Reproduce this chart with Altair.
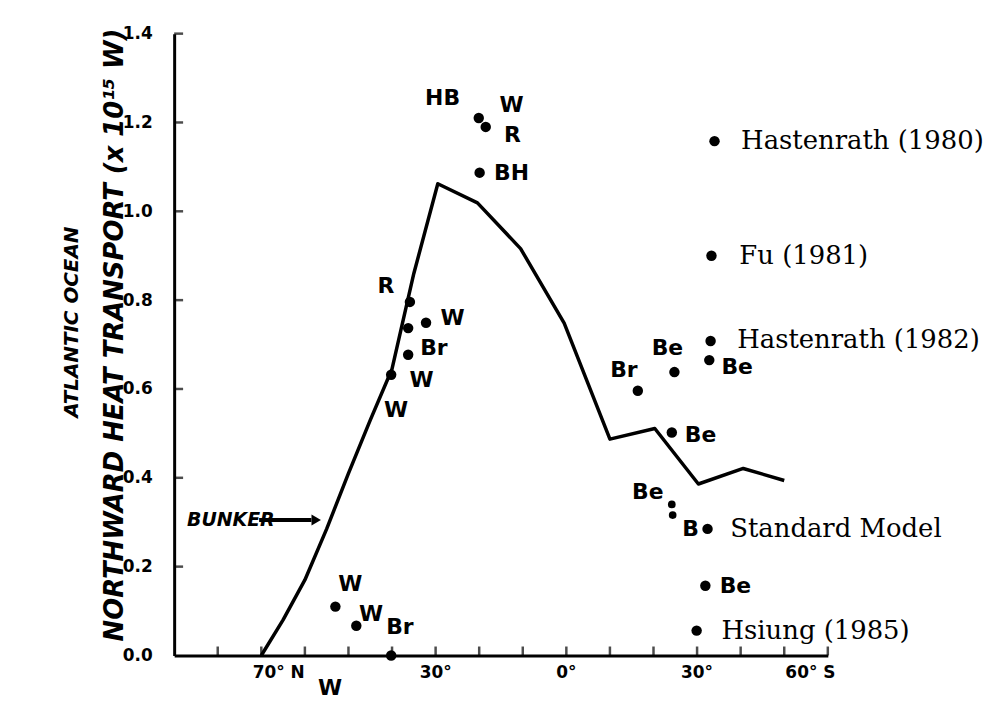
import altair as alt
import pandas as pd

# Bunker curve (latitude, +N / -S ; transport 10^15 W)
line_lat = [70, 65, 60, 55, 50, 45, 40, 35, 29.5, 20.4, 10.5, 0.5, -10, -20.3, -30.3, -40.6, -50]
line_val = [0.0, 0.08, 0.17, 0.285, 0.41, 0.53, 0.645, 0.86, 1.062, 1.019, 0.916, 0.748, 0.487, 0.511, 0.386, 0.421, 0.394]

# Individual estimates (dots)
dot_lat = [20.1, 18.5, 19.9, 35.9, 36.3, 32.2, 36.3, 40.2, 53.0, 48.2, 40.2,
           -16.4, -24.8, -33.1, -32.8, -24.2, -24.2, -24.4, -32.4, -31.9, -34.0, -33.3, -29.9]
dot_val = [1.21, 1.19, 1.087, 0.796, 0.737, 0.749, 0.677, 0.632, 0.11, 0.067, 0.0,
           0.596, 0.638, 0.708, 0.665, 0.502, 0.34, 0.316, 0.285, 0.157, 1.158, 0.90, 0.056]
dot_size = [110, 110, 110, 110, 110, 110, 110, 110, 110, 110, 110,
            110, 110, 110, 110, 110, 60, 60, 110, 110, 110, 110, 110]

# Source letter labels
lab_text = ["HB", "W", "R", "BH", "R", "W", "Br", "W", "W", "W", "W", "Br", "W",
            "Br", "Be", "Be", "Be", "Be", "B", "Be"]
lab_lat = [28.4, 12.6, 12.4, 12.6, 41.4, 26.1, 30.4, 33.2, 39.1, 49.6, 44.8, 38.2, 54.2,
           -13.2, -23.2, -39.2, -30.8, -18.7, -28.5, -38.8]
lab_val = [1.254, 1.239, 1.172, 1.086, 0.831, 0.759, 0.692, 0.62, 0.553, 0.161, 0.094, 0.063, -0.074,
           0.643, 0.692, 0.65, 0.497, 0.367, 0.285, 0.157]

# Study names
src_text = ["Hastenrath (1980)", "Fu (1981)", "Hastenrath (1982)", "Standard Model", "Hsiung (1985)"]
src_lat = [-40.1, -39.7, -39.2, -37.6, -35.6]
src_val = [1.158, 0.90, 0.71, 0.285, 0.056]

# Axis ticks / labels
xtick_lat = [80, 70, 60, 50, 40, 30, 20, 10, 0, -10, -20, -30, -40, -50, -60]
ytick_val = [0.2, 0.4, 0.6, 0.8, 1.0, 1.2, 1.4]
yaxis_vals = [0.0, 0.2, 0.4, 0.6, 0.8, 1.0, 1.2, 1.4]
xlab_text = ["70° N", "30°", "0°", "30°", "60° S"]
xlab_lat = [66, 30, 0, -30, -56]

# Bunker annotation
bunker_text = ["BUNKER"]
bunker_lat = [77.0]
bunker_val = [0.305]
arrow_lat = [70.5]
arrow_lat2 = [58.5]
arrow_head_lat = [57.4]

W, H = 657, 625
xs = alt.Scale(domain=[-60, 90], reverse=True, nice=False, zero=False)
ys = alt.Scale(domain=[0, 1.4], nice=False, zero=False)
xax = alt.Axis(labels=False, ticks=False, grid=False, title=None,
               domainColor="black", domainWidth=3)
yax = alt.Axis(values=yaxis_vals, format=".1f", ticks=False, grid=False, title=None,
               domainColor="black", domainWidth=3,
               labelFont="DejaVu Sans", labelFontWeight="bold", labelFontSize=17,
               labelColor="black", labelPadding=22)


def X(field):
    return alt.X(field, scale=xs, axis=xax)


def Y(field):
    return alt.Y(field, scale=ys, axis=yax)


line_df = pd.DataFrame({"lat": line_lat, "val": line_val})
dot_df = pd.DataFrame({"lat": dot_lat, "val": dot_val, "size": dot_size})
lab_df = pd.DataFrame({"lat": lab_lat, "val": lab_val, "text": lab_text})
src_df = pd.DataFrame({"lat": src_lat, "val": src_val, "text": src_text})
xt_df = pd.DataFrame({"lat": xtick_lat, "val": [0.0] * len(xtick_lat)})
yt_df = pd.DataFrame({"lat": [90.0] * len(ytick_val), "val": ytick_val})
xl_df = pd.DataFrame({"lat": xlab_lat, "val": [0.0] * len(xlab_lat), "text": xlab_text})
bk_df = pd.DataFrame({"lat": bunker_lat, "val": bunker_val, "text": bunker_text,
                      "a1": arrow_lat, "a2": arrow_lat2, "ah": arrow_head_lat})

line = alt.Chart(line_df).mark_line(color="black", strokeWidth=3.5, strokeJoin="round").encode(
    x=X("lat:Q"), y=Y("val:Q"))

xticks = alt.Chart(xt_df).mark_tick(color="black", orient="vertical", size=9, thickness=2.5, yOffset=-4.5).encode(
    x=X("lat:Q"), y=Y("val:Q"))
yticks = alt.Chart(yt_df).mark_tick(color="black", orient="horizontal", size=9, thickness=2.5, xOffset=4.5).encode(
    x=X("lat:Q"), y=Y("val:Q"))

xlabels = alt.Chart(xl_df).mark_text(font="DejaVu Sans", fontWeight="bold", fontSize=17,
                                     color="black", baseline="top", dy=10).encode(
    x=X("lat:Q"), y=Y("val:Q"), text="text:N")

dots = alt.Chart(dot_df).mark_point(filled=True, color="black", opacity=1, shape="circle").encode(
    x=X("lat:Q"), y=Y("val:Q"), size=alt.Size("size:Q", scale=None, legend=None))

labels = alt.Chart(lab_df).mark_text(font="DejaVu Sans", fontWeight="bold", fontSize=22,
                                     color="black", baseline="middle").encode(
    x=X("lat:Q"), y=Y("val:Q"), text="text:N")

sources = alt.Chart(src_df).mark_text(font="DejaVu Serif", fontSize=26, color="black",
                                      align="left", baseline="middle").encode(
    x=X("lat:Q"), y=Y("val:Q"), text="text:N")

bk_text = alt.Chart(bk_df).mark_text(font="DejaVu Sans", fontWeight="bold", fontStyle="italic",
                                     fontSize=19, color="black", baseline="middle").encode(
    x=X("lat:Q"), y=Y("val:Q"), text="text:N")
bk_rule = alt.Chart(bk_df).mark_rule(color="black", strokeWidth=4).encode(
    x=X("a1:Q"), x2="a2:Q", y=Y("val:Q"))
bk_head = alt.Chart(bk_df).mark_point(shape="triangle-right", filled=True, color="black",
                                      opacity=1, size=120).encode(
    x=X("ah:Q"), y=Y("val:Q"))

ytitle1 = alt.Chart(pd.DataFrame({"t": ["ATLANTIC OCEAN"]})).mark_text(
    font="DejaVu Sans", fontWeight="bold", fontStyle="italic", fontSize=20, angle=270,
    color="black", baseline="middle").encode(x=alt.value(-103), y=alt.value(290), text="t:N")
ytitle2 = alt.Chart(pd.DataFrame({"t": ["NORTHWARD HEAT TRANSPORT (x 10¹⁵ W)"]})).mark_text(
    font="DejaVu Sans", fontWeight="bold", fontStyle="italic", fontSize=26, angle=270,
    color="black", baseline="middle").encode(x=alt.value(-59), y=alt.value(303), text="t:N")

chart = alt.layer(line, xticks, yticks, xlabels, dots, labels, sources, bk_text, bk_rule, bk_head,
                  ytitle1, ytitle2).properties(
    width=W, height=H,
    autosize=alt.AutoSizeParams(type="none"),
    padding={"left": 167, "top": 24, "right": 160, "bottom": 45},
).configure(
    background="white",
    view=alt.ViewConfig(stroke=None),
    axis=alt.AxisConfig(labelFont="DejaVu Sans", labelFontWeight="bold", labelFontSize=17,
                        labelColor="black"),
)

chart.save("out.html", embed_options={"renderer": "svg", "actions": False})
